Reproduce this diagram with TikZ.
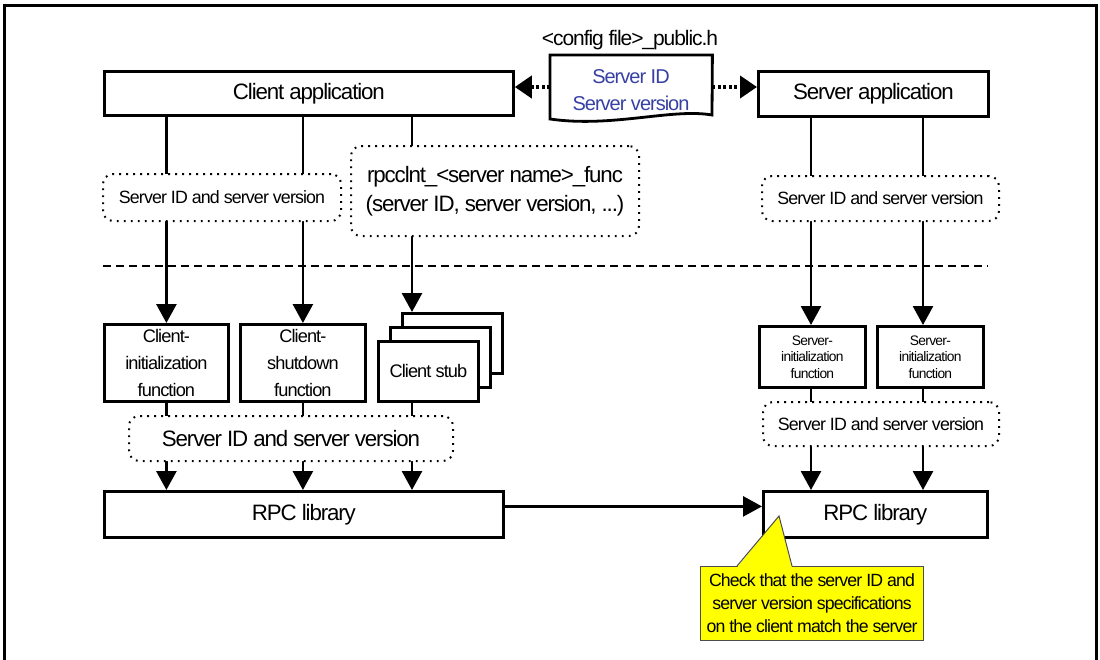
\documentclass[tikz,border=0pt]{standalone}
\usepackage{fontspec}
\setmainfont{Liberation Sans}[LetterSpace=-5]
\usetikzlibrary{arrows.meta}
\pgfdeclarelayer{bg}\pgfsetlayers{bg,main}
\definecolor{docblue}{RGB}{55,65,165}
\definecolor{notey}{RGB}{255,255,0}
\tikzset{
 box/.style={draw, line width=2.8pt, fill=white, anchor=north west, inner sep=0pt, align=center},
 dotbox/.style={draw, line width=2pt, dash pattern=on 1.8pt off 5.2pt, rounded corners=10pt, fill=white, anchor=north west, inner sep=0pt, align=center},
 arr/.style={line width=2.8pt, -{Triangle[length=19pt,width=20pt]}},
 dotarr/.style={line width=4pt, dash pattern=on 3pt off 2.5pt, -{Triangle[length=17pt,width=22pt]}},
 fL/.style={font=\fontsize{22.3}{29}\selectfont},
 fM/.style={font=\fontsize{17.8}{27}\selectfont},
 fI/.style={font=\fontsize{18.2}{27}\selectfont},
 fS/.style={font=\fontsize{13.8}{16.5}\selectfont},
}
\begin{document}
\begin{tikzpicture}[x=1pt,y=-1pt]
\useasboundingbox (0,0) rectangle (1100,659);
% outer frame
\draw[line width=3pt] (4,662) -- (4,5) -- (1096,5) -- (1096,662);

% top boxes
\node[box,fL,minimum width=409pt,minimum height=44pt] (capp) at (103,70) {Client application};
\node[box,fL,minimum width=230pt,minimum height=45pt] (sapp) at (757,70) {Server application};

% config file document
\node[anchor=north west, minimum width=162pt, minimum height=62pt, inner sep=0pt] (doc) at (550,55) {};
\draw[line width=2.8pt, fill=white] (doc.north west) -- (doc.north east) -- (712,115)
  .. controls (672,108) and (612,128) .. (550,119) -- cycle;
\node[font=\fontsize{21}{24}\selectfont] (doclabel) at (630,40) {<config file>\_public.h};
\node[font=\fontsize{20}{27}\selectfont, text=docblue, align=center] (docid) at (631,90) {Server ID\\Server version};
\coordinate (ay) at (0,87);
\draw[dotarr] (doc.west |- ay) -- (capp.east |- ay);
\draw[dotarr] (doc.east |- ay) -- (sapp.west |- ay);

% dotted parameter boxes (upper)
\node[dotbox,fM,minimum width=238pt,minimum height=47pt] (sdl1) at (102,173) {Server ID and server version};
\node[dotbox,fL,minimum width=288pt,minimum height=90pt] (rpcf) at (350,145) {rpcclnt\_<server name>\_func\\(server ID, server version, ...)};
\node[dotbox,fM,minimum width=237pt,minimum height=45pt] (sdr1) at (761,175) {Server ID and server version};

% dashed separator
\draw[line width=1.5pt, dash pattern=on 8pt off 5pt] (103,266) -- (988,266);

% function boxes
\node[box,fI,minimum width=124pt,minimum height=77pt] (cinit) at (103,323) {Client-\\initialization\\function};
\node[box,fI,minimum width=125pt,minimum height=77pt] (csd) at (239,323) {Client-\\shutdown\\function};
\node[box,minimum width=100pt,minimum height=60pt] (stubB) at (401,312) {};
\node[box,minimum width=100pt,minimum height=60pt] (stubM) at (389,326) {};
\node[box,fI,minimum width=100pt,minimum height=60pt] (stubF) at (377,340) {Client stub};
\coordinate (stubin) at (412,312);
\node[box,fS,minimum width=106pt,minimum height=61pt] (sinit1) at (758,325) {Server-\\initialization\\function};
\node[box,fS,minimum width=106pt,minimum height=61pt] (sinit2) at (876,325) {Server-\\initialization\\function};
\coordinate (sx1) at (811,0);
\coordinate (sx2) at (923,0);

% dotted parameter boxes (lower)
\node[dotbox,fL,minimum width=324pt,minimum height=45pt] (sdl2) at (128,415) {Server ID and server version};
\node[dotbox,fM,minimum width=236pt,minimum height=44pt] (sdr2) at (762,401) {Server ID and server version};

% RPC libraries
\node[box,fL,minimum width=399pt,minimum height=46pt] (rpcL) at (103,490) {RPC library};
\node[box,fL,minimum width=224pt,minimum height=46pt] (rpcR) at (762,490) {RPC library};

% connectors
\begin{pgfonlayer}{bg}
\draw[arr] (capp.south -| cinit.north) -- (cinit.north);
\draw[arr] (capp.south -| csd.north) -- (csd.north);
\draw[arr] (capp.south -| stubin) -- (stubin);
\draw[arr] (sapp.south -| sx1) -- (sinit1.north -| sx1);
\draw[arr] (sapp.south -| sx2) -- (sinit2.north -| sx2);
\draw[arr] (cinit.south) -- (rpcL.north -| cinit.south);
\draw[arr] (csd.south) -- (rpcL.north -| csd.south);
\draw[arr] (stubF.south -| stubin) -- (rpcL.north -| stubin);
\draw[arr] (sinit1.south -| sx1) -- (rpcR.north -| sx1);
\draw[arr] (sinit2.south -| sx2) -- (rpcR.north -| sx2);
\end{pgfonlayer}
\draw[arr] ([yshift=8pt]rpcL.east) -- ([yshift=8pt]rpcR.west);

% callout
\node[anchor=north west, minimum width=223pt, minimum height=74pt, fill=notey, draw=black!70, line width=1pt, inner sep=0pt, align=center, font=\fontsize{17.7}{23}\selectfont] (note) at (700,566) {Check that the server ID and\\server version specifications\\on the client match the server};
\fill[notey] (737,567.5) -- (779,516) -- (792,567.5) -- cycle;
\draw[black!70, line width=1pt] (737,566) -- (779,516) -- (792,566);
\end{tikzpicture}
\end{document}
